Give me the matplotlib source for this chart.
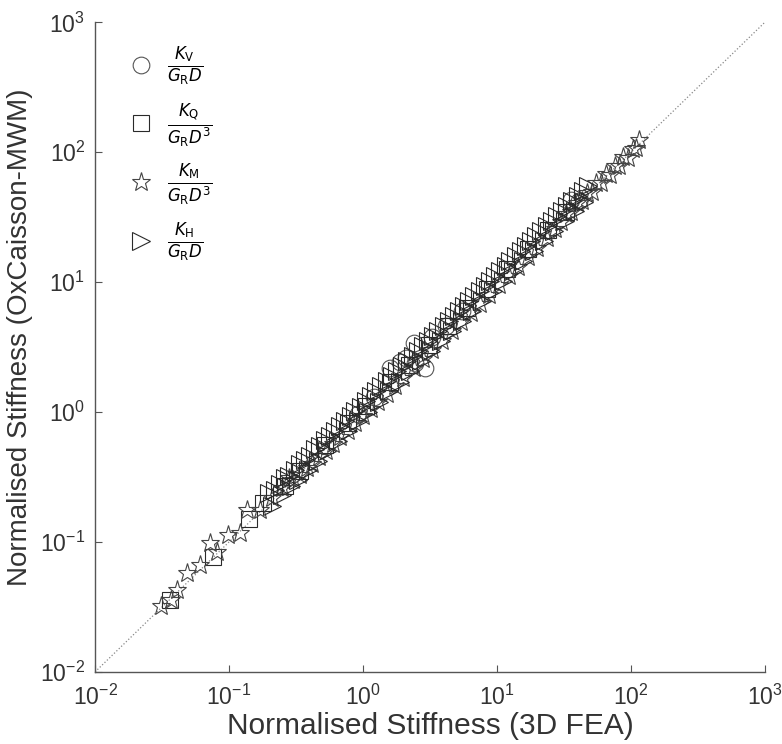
import matplotlib.pyplot as plt

plt.rcParams['font.family'] = ['Liberation Sans', 'DejaVu Sans']

# K_V / (G_R D)  - circles
circ_x = [0.92, 1.2, 1.6, 1.9, 2.1, 2.4, 2.45, 2.9, 3.3, 4.2, 5.5, 36.0, 41.0]
circ_y = [0.97, 1.3, 2.2, 2.45, 2.6, 3.4, 2.4, 2.2, 3.8, 4.6, 6.0, 43.0, 42.0]

# K_Q / (G_R D^3) - squares
sq_x = [0.036, 0.076, 0.14, 0.18, 0.26, 0.34, 0.52, 0.78, 1.05, 1.6, 2.2, 3.1,
        4.3, 6.0, 8.4, 12.0, 17.0, 24.0, 33.0]
sq_y = [0.036, 0.077, 0.15, 0.20, 0.27, 0.35, 0.56, 0.82, 1.12, 1.7, 2.3, 3.3,
        4.6, 6.3, 8.9, 12.7, 17.9, 25.0, 34.5]

# K_M / (G_R D^3) - stars
star_x = [0.031, 0.037, 0.041, 0.049, 0.061, 0.072, 0.081, 0.098, 0.12, 0.136,
          0.17, 0.21, 0.25, 0.28, 0.30, 0.34, 0.38, 0.42, 0.47, 0.53, 0.6,
          0.68, 0.77, 0.88, 1.0, 1.15, 1.3, 1.5, 1.75, 2.0, 2.4, 2.8, 3.3, 3.9,
          4.6, 5.4, 6.4, 7.5, 8.8, 10.4, 12.3, 14.5, 17.0, 20.0, 23.5, 27.0,
          30.0, 33.0, 36.0, 39.5, 43.0, 47.0, 51.0, 55.0, 60.0, 65.0, 70.0,
          76.0, 82.0, 88.0, 95.0, 103.0, 110.0, 116.0]
star_y = [0.032, 0.036, 0.043, 0.058, 0.067, 0.098, 0.084, 0.113, 0.117, 0.176,
          0.176, 0.22, 0.26, 0.31, 0.30, 0.33, 0.37, 0.40, 0.45, 0.50, 0.57,
          0.64, 0.72, 0.82, 0.93, 1.06, 1.2, 1.38, 1.6, 1.83, 2.2, 2.55, 3.0,
          3.55, 4.2, 4.9, 5.8, 6.8, 8.0, 9.5, 11.2, 13.2, 15.6, 18.4, 21.8,
          25.5, 29.0, 33.5, 34.5, 41.0, 42.0, 49.0, 49.5, 58.0, 58.5, 68.0,
          67.0, 79.0, 78.0, 92.0, 91.0, 106.0, 108.0, 124.0]

# K_H / (G_R D) - right triangles
tri_x = [0.20, 0.22, 0.24, 0.26, 0.28, 0.31, 0.34, 0.37, 0.40, 0.44, 0.48,
         0.52, 0.57, 0.62, 0.68, 0.74, 0.81, 0.88, 0.96, 1.05, 1.15, 1.25,
         1.37, 1.5, 1.64, 1.8, 1.96, 2.15, 2.35, 2.57, 2.8, 3.07, 3.35, 3.66,
         4.0, 4.37, 4.78, 5.22, 5.7, 6.23, 6.8, 7.43, 8.12, 8.87, 9.7, 10.6,
         11.6, 12.6, 13.8, 15.1, 16.5, 18.0, 19.7, 21.5, 23.5, 25.7, 28.1,
         30.7, 33.5, 36.6, 40.0, 43.7, 47.8,
         0.21, 0.25, 0.29, 0.33, 0.39, 0.46, 0.54, 0.65, 0.77, 0.92, 1.1,
         1.31, 1.57, 1.88, 2.25, 2.7, 3.2, 3.8, 4.6, 5.5, 6.5, 7.8, 9.3, 11.1,
         13.2, 15.8, 18.8, 22.5, 26.8, 32.0, 38.0, 45.0]
tri_y = [0.24, 0.25, 0.28, 0.31, 0.32, 0.36, 0.40, 0.43, 0.46, 0.52, 0.55,
         0.61, 0.66, 0.72, 0.78, 0.86, 0.93, 1.02, 1.10, 1.22, 1.32, 1.45,
         1.58, 1.74, 1.89, 2.08, 2.25, 2.48, 2.70, 2.97, 3.22, 3.54, 3.85,
         4.22, 4.60, 5.05, 5.50, 6.02, 6.56, 7.18, 7.82, 8.56, 9.34, 10.2,
         11.2, 12.2, 13.3, 14.5, 15.9, 17.4, 19.0, 20.8, 22.7, 24.8, 27.0,
         29.6, 32.3, 35.3, 38.5, 42.1, 46.0, 50.3, 55.0,
         0.19, 0.23, 0.27, 0.30, 0.36, 0.42, 0.50, 0.60, 0.71, 0.85, 1.01,
         1.20, 1.45, 1.72, 2.07, 2.48, 2.95, 3.50, 4.22, 5.05, 5.98, 7.16,
         8.55, 10.2, 12.1, 14.5, 17.3, 20.7, 24.6, 29.4, 35.0, 41.4]

fig, ax = plt.subplots(figsize=(7.82, 7.44), dpi=100)
fig.subplots_adjust(left=0.1215, right=0.978, bottom=0.0968, top=0.970)

ax.plot([1e-2, 1e3], [1e-2, 1e3], ':', color='#888888', lw=0.9, zorder=1)

edge = '#2a2a2a'
ax.plot(circ_x, circ_y, 'o', mfc='none', mec='#555555', mew=0.8, ms=12,
        ls='none', label=r'$\frac{K_\mathrm{V}}{G_\mathrm{R}D}$')
ax.plot(sq_x, sq_y, 's', mfc='none', mec=edge, mew=0.8, ms=11,
        ls='none', label=r'$\frac{K_\mathrm{Q}}{G_\mathrm{R}D^3}$')
ax.plot(star_x, star_y, '*', mfc='none', mec='#444444', mew=0.8, ms=14,
        ls='none', label=r'$\frac{K_\mathrm{M}}{G_\mathrm{R}D^3}$')
ax.plot(tri_x, tri_y, '>', mfc='none', mec=edge, mew=0.8, ms=13,
        ls='none', label=r'$\frac{K_\mathrm{H}}{G_\mathrm{R}D}$')

ax.set_xscale('log')
ax.set_yscale('log')
ax.set_xlim(1e-2, 1e3)
ax.set_ylim(1e-2, 1e3)
ax.minorticks_off()

for s in ['top', 'right']:
    ax.spines[s].set_visible(False)
for s in ['left', 'bottom']:
    ax.spines[s].set_color('#555555')
    ax.spines[s].set_linewidth(1.0)
ax.tick_params(direction='in', length=5, color='#555555', labelsize=16.5,
               labelcolor='#333333')
ax.tick_params(axis='x', pad=9)
ax.tick_params(axis='y', pad=7)

ax.set_xlabel('Normalised Stiffness (3D FEA)', fontsize=21.5, color='#333333',
              labelpad=2)
ax.set_ylabel('Normalised Stiffness (OxCaisson-MWM)', fontsize=20,
              color='#333333')
ax.yaxis.set_label_coords(-0.092, 0.515)

ax.legend(loc='upper left', frameon=False, fontsize=17, labelspacing=0.55,
          handlelength=1.2, handletextpad=0.5, bbox_to_anchor=(0.016, 0.998))

plt.savefig('out.png', dpi=100)
